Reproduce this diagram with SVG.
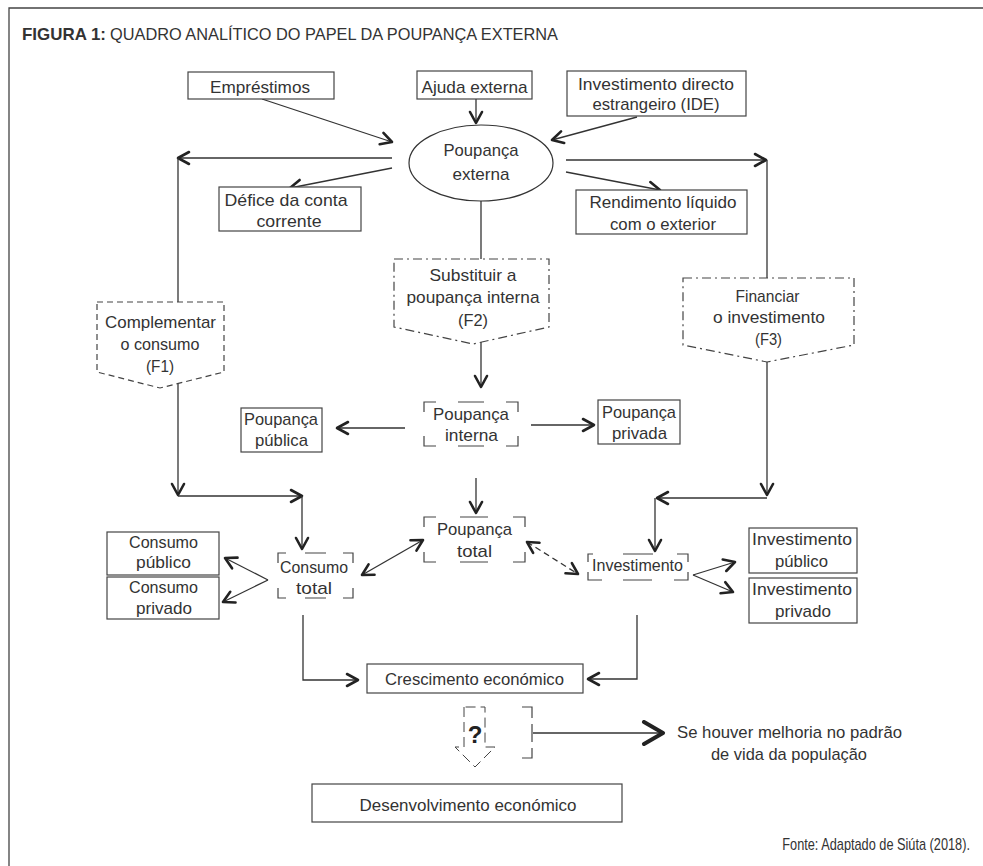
<svg xmlns="http://www.w3.org/2000/svg" width="983" height="866" viewBox="0 0 983 866">
<defs>
<style>
.t{font-family:"Liberation Sans",Arial,sans-serif;font-size:17px;fill:#333;text-anchor:middle}
.box{fill:#fff;stroke:#444;stroke-width:1.2}
.brk{fill:none;stroke:#444;stroke-width:1.2}
.dd{fill:none;stroke:#444;stroke-width:1.2;stroke-dasharray:9 4 2 4}
.ds{fill:none;stroke:#444;stroke-width:1.2;stroke-dasharray:6 4}
.ln{fill:none;stroke:#333;stroke-width:1.3}
.la{fill:none;stroke:#333;stroke-width:1.3;marker-end:url(#ah)}
</style>
<marker id="ah" markerUnits="userSpaceOnUse" viewBox="0 0 16 16" markerWidth="16" markerHeight="16" refX="13" refY="8" orient="auto-start-reverse">
<path d="M2,2 L13,8 L2,14" fill="none" stroke="#222" stroke-width="2.6" stroke-linecap="round" stroke-linejoin="round"/>
</marker>
<marker id="ahb" markerUnits="userSpaceOnUse" viewBox="0 0 26 26" markerWidth="26" markerHeight="26" refX="22" refY="13" orient="auto">
<path d="M3,2 L22,13 L3,24" fill="none" stroke="#222" stroke-width="4" stroke-linecap="round" stroke-linejoin="round"/>
</marker>
</defs>
<rect width="983" height="866" fill="#fff"/>
<path d="M9,866 V8 H983" fill="none" stroke="#444" stroke-width="1.3"/>
<text x="22" y="40" class="t" style="text-anchor:start;font-weight:bold" textLength="84" lengthAdjust="spacingAndGlyphs">FIGURA 1:</text>
<text x="110" y="40" class="t" style="text-anchor:start" textLength="448" lengthAdjust="spacingAndGlyphs">QUADRO ANALÍTICO DO PAPEL DA POUPANÇA EXTERNA</text>

<g id="connectors">
<path class="la" d="M262,99 L392,142"/>
<path class="la" d="M476,99 V123"/>
<path class="la" d="M637,117 L552,140"/>
<path class="la" d="M392,158 H178"/>
<path class="ln" d="M178,158 V302"/>
<path class="la" d="M392,168 L290,188"/>
<path class="la" d="M566,160 H766"/>
<path class="ln" d="M767,160 V278"/>
<path class="la" d="M566,172 L660,190"/>
<path class="ln" d="M481,200 V259"/>
<path class="la" d="M481,342 V387"/>
<path class="la" d="M178,384 V495"/>
<path class="la" d="M178,496 H302"/>
<path class="la" d="M302,496 V549"/>
<path class="la" d="M767,362 V495"/>
<path class="la" d="M767,498 H657"/>
<path class="la" d="M655,498 V551"/>
<path class="la" d="M405,428 H337"/>
<path class="la" d="M531,425 H594"/>
<path class="la" d="M476,478 V513"/>
<path class="la" d="M362,575 L423,540" style="marker-start:url(#ah)"/>
<path class="la" d="M527,542 L578,574" style="marker-start:url(#ah);stroke-dasharray:6 4"/>
<path class="la" d="M268,580 L225,558"/>
<path class="la" d="M268,580 L223,602"/>
<path class="la" d="M693,575 L735,562"/>
<path class="la" d="M693,575 L733,592"/>
<path class="la" d="M303,615 V680 H358"/>
<path class="la" d="M637,615 V679 H588"/>
<path class="ln" d="M533,733 H663" style="marker-end:url(#ahb)"/>
</g>

<g id="n-emprestimos">
<rect class="box" x="188" y="72" width="146" height="27"/>
<text class="t" x="260" y="93" textLength="100" lengthAdjust="spacingAndGlyphs">Empréstimos</text>
</g>
<g id="n-ajuda">
<rect class="box" x="417" y="71" width="115" height="28"/>
<text class="t" x="474.5" y="93" textLength="106" lengthAdjust="spacingAndGlyphs">Ajuda externa</text>
</g>
<g id="n-ide">
<rect class="box" x="567" y="71" width="179" height="45"/>
<text class="t" x="656" y="90" textLength="156" lengthAdjust="spacingAndGlyphs">Investimento directo</text>
<text class="t" x="656" y="110" textLength="127" lengthAdjust="spacingAndGlyphs">estrangeiro (IDE)</text>
</g>
<g id="n-poupanca-externa">
<ellipse cx="481" cy="163" rx="72" ry="38" fill="#fff" stroke="#333" stroke-width="1.2"/>
<text class="t" x="481" y="156" textLength="75" lengthAdjust="spacingAndGlyphs">Poupança</text>
<text class="t" x="481" y="180" textLength="57" lengthAdjust="spacingAndGlyphs">externa</text>
</g>
<g id="n-defice">
<rect class="box" x="219" y="187" width="142" height="44"/>
<text class="t" x="286" y="206" textLength="123" lengthAdjust="spacingAndGlyphs">Défice da conta</text>
<text class="t" x="289" y="227" textLength="65" lengthAdjust="spacingAndGlyphs">corrente</text>
</g>
<g id="n-rendimento">
<rect class="box" x="576" y="190" width="171" height="44"/>
<text class="t" x="663" y="208" textLength="147" lengthAdjust="spacingAndGlyphs">Rendimento líquido</text>
<text class="t" x="663" y="230" textLength="106" lengthAdjust="spacingAndGlyphs">com o exterior</text>
</g>
<g id="n-f1">
<path class="ds" d="M97,302 H224 V372 L160,388 L97,372 Z"/>
<text class="t" x="160.5" y="328" textLength="111" lengthAdjust="spacingAndGlyphs">Complementar</text>
<text class="t" x="160" y="350" textLength="79" lengthAdjust="spacingAndGlyphs">o consumo</text>
<text class="t" x="160" y="372" textLength="28" lengthAdjust="spacingAndGlyphs">(F1)</text>
</g>
<g id="n-f2">
<path class="dd" d="M394,259 H549 V327 L473,344 L394,327 Z"/>
<text class="t" x="473" y="281" textLength="87" lengthAdjust="spacingAndGlyphs">Substituir a</text>
<text class="t" x="473" y="303" textLength="133" lengthAdjust="spacingAndGlyphs">poupança interna</text>
<text class="t" x="473" y="326" textLength="30" lengthAdjust="spacingAndGlyphs">(F2)</text>
</g>
<g id="n-f3">
<path class="dd" d="M683,278 H854 V345 L767,362 L683,345 Z"/>
<text class="t" x="767.5" y="302" textLength="64" lengthAdjust="spacingAndGlyphs">Financiar</text>
<text class="t" x="769" y="323" textLength="112" lengthAdjust="spacingAndGlyphs">o investimento</text>
<text class="t" x="768.5" y="345" textLength="27" lengthAdjust="spacingAndGlyphs">(F3)</text>
</g>
<g id="n-poupanca-publica">
<rect class="box" x="241" y="408" width="81" height="44"/>
<text class="t" x="281" y="425" textLength="74" lengthAdjust="spacingAndGlyphs">Poupança</text>
<text class="t" x="281.5" y="446" textLength="53" lengthAdjust="spacingAndGlyphs">pública</text>
</g>
<g id="n-poupanca-interna">
<path class="brk" d="M424,412 V402 H436 M458,402 H484 M506,402 H518 V412 M424,436 V446 H436 M458,446 H484 M506,446 H518 V436"/>
<text class="t" x="471" y="420" textLength="76" lengthAdjust="spacingAndGlyphs">Poupança</text>
<text class="t" x="471.5" y="441" textLength="53" lengthAdjust="spacingAndGlyphs">interna</text>
</g>
<g id="n-poupanca-privada">
<rect class="box" x="598" y="400" width="82" height="44"/>
<text class="t" x="639" y="418" textLength="74" lengthAdjust="spacingAndGlyphs">Poupança</text>
<text class="t" x="639.5" y="439" textLength="55" lengthAdjust="spacingAndGlyphs">privada</text>
</g>
<g id="n-poupanca-total">
<path class="brk" d="M424,527 V517 H436 M460,517 H488 M513,517 H525 V527 M424,552 V562 H436 M460,562 H488 M513,562 H525 V552"/>
<text class="t" x="474.5" y="535" textLength="75" lengthAdjust="spacingAndGlyphs">Poupança</text>
<text class="t" x="474.5" y="557" textLength="35" lengthAdjust="spacingAndGlyphs">total</text>
</g>
<g id="n-consumo-total">
<path class="brk" d="M278,563 V553 H286 M305,553 H326 M343,553 H353 V563 M278,588 V598 H286 M305,598 H326 M343,598 H353 V588"/>
<text class="t" x="314" y="573" textLength="68" lengthAdjust="spacingAndGlyphs">Consumo</text>
<text class="t" x="314" y="594" textLength="36" lengthAdjust="spacingAndGlyphs">total</text>
</g>
<g id="n-consumo-publico">
<rect class="box" x="107" y="532" width="112" height="43"/>
<text class="t" x="163.5" y="548" textLength="69" lengthAdjust="spacingAndGlyphs">Consumo</text>
<text class="t" x="163.5" y="568" textLength="55" lengthAdjust="spacingAndGlyphs">público</text>
</g>
<g id="n-consumo-privado">
<rect class="box" x="107" y="577" width="112" height="42"/>
<text class="t" x="163.5" y="593" textLength="69" lengthAdjust="spacingAndGlyphs">Consumo</text>
<text class="t" x="164" y="614" textLength="56" lengthAdjust="spacingAndGlyphs">privado</text>
</g>
<g id="n-investimento">
<path class="brk" d="M588,562 V554 H593 M623,554 H653 M677,554 H688 V562 M588,572 V580 H602 M623,580 H652 M674,580 H688 V572"/>
<text class="t" x="637.5" y="571" textLength="91" lengthAdjust="spacingAndGlyphs">Investimento</text>
</g>
<g id="n-investimento-publico">
<rect class="box" x="749" y="528" width="108" height="45"/>
<text class="t" x="802" y="545" textLength="100" lengthAdjust="spacingAndGlyphs">Investimento</text>
<text class="t" x="801.5" y="567" textLength="53" lengthAdjust="spacingAndGlyphs">público</text>
</g>
<g id="n-investimento-privado">
<rect class="box" x="749" y="578" width="108" height="45"/>
<text class="t" x="802" y="595" textLength="100" lengthAdjust="spacingAndGlyphs">Investimento</text>
<text class="t" x="803" y="617" textLength="56" lengthAdjust="spacingAndGlyphs">privado</text>
</g>
<g id="n-crescimento">
<rect class="box" x="367" y="664" width="216" height="29"/>
<text class="t" x="474.5" y="685" textLength="179" lengthAdjust="spacingAndGlyphs">Crescimento económico</text>
</g>
<g id="n-questao">
<path d="M464,707 V747 H455 L475,767 L495,747 H485 V707 Z" fill="none" stroke="#444" stroke-width="1" stroke-dasharray="10 5"/>
<text class="t" x="475" y="743" style="font-weight:bold;font-size:24px;fill:#222">?</text>
<path class="brk" d="M522,707 H532 V718 M532,724 V742 M532,748 V758 H522"/>
</g>
<g id="n-melhoria">
<text class="t" x="789.5" y="738" textLength="225" lengthAdjust="spacingAndGlyphs">Se houver melhoria no padrão</text>
<text class="t" x="789" y="760" textLength="156" lengthAdjust="spacingAndGlyphs">de vida da população</text>
</g>
<g id="n-desenvolvimento">
<rect class="box" x="312" y="784" width="310" height="38"/>
<text class="t" x="468" y="811" textLength="217" lengthAdjust="spacingAndGlyphs">Desenvolvimento económico</text>
</g>
<text class="t" transform="translate(970,850) scale(0.75,1)" x="0" y="0" style="text-anchor:end">Fonte: Adaptado de Siúta (2018).</text>
</svg>
